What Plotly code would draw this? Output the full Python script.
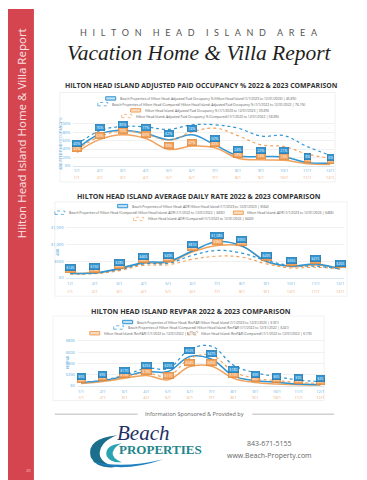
import plotly.graph_objects as go

W, H = 367, 480

# ---------------- data ----------------
months = ['1/1', '2/1', '3/1', '4/1', '5/1', '6/1', '7/1', '8/1', '9/1', '10/1', '11/1', '12/1']

occ_bp_2023 = [40, 76, 85, 77, 62, 74, 50, 24, 22, 21, 8, 6]
occ_bp_2022 = [50, 84, 94, 93, 87, 98, 98, 90, 71, 72, 46, 25]
occ_hhi_2023 = [32, 63, 74, 65, 39, 47, 43, 18, 14, 13, 5, 3]
occ_hhi_2022 = [38, 70, 83, 75, 61, 81, 90, 72, 50, 46, 28, 18]

adr_bp_2023 = [145, 150, 285, 465, 495, 810, 1085, 955, 495, 355, 415, 265]
adr_bp_2022 = [130, 140, 250, 420, 440, 680, 820, 740, 520, 370, 350, 275]
adr_hhi_2023 = [140, 148, 265, 440, 465, 780, 965, 950, 480, 340, 390, 290]
adr_hhi_2022 = [120, 130, 220, 375, 395, 560, 650, 620, 420, 300, 320, 270]

rev_bp_2023 = [55, 95, 170, 255, 255, 525, 475, 180, 95, 65, 35, 25]
rev_bp_2022 = [60, 105, 190, 315, 310, 650, 705, 370, 235, 165, 105, 75]
rev_hhi_2023 = [45, 78, 135, 185, 110, 345, 350, 135, 60, 35, 20, 15]
rev_hhi_2022 = [50, 90, 160, 230, 170, 490, 545, 255, 135, 95, 60, 45]

occ_names = [
    'Beach Properties of Hilton Head: Adjusted Paid Occupancy % (Hilton Head Island (1/1/2023 to 12/31/2023) | 45.8%)',
    'Beach Properties of Hilton Head (Compared) Hilton Head Island: Adjusted Paid Occupancy % (1/1/2022 to 12/31/2022 | 76.1%)',
    'Hilton Head Island: Adjusted Paid Occupancy % (1/1/2023 to 12/31/2023 | 39.8%)',
    'Hilton Head Island: Adjusted Paid Occupancy % (Compared) (1/1/2022 to 12/31/2022 | 58.8%)',
]
adr_names = [
    'Beach Properties of Hilton Head: ADR Hilton Head Island (1/1/2023 to 12/31/2023 | $564)',
    'Beach Properties of Hilton Head (Compared) Hilton Head Island: ADR (1/1/2022 to 12/31/2022 | $492)',
    'Hilton Head Island: ADR (1/1/2023 to 12/31/2023 | $486)',
    'Hilton Head Island: ADR (Compared) (1/1/2022 to 12/31/2022 | $440)',
]
rev_names = [
    'Beach Properties of Hilton Head: RevPAR Hilton Head Island (1/1/2023 to 12/31/2023 | $181)',
    'Beach Properties of Hilton Head (Compared) Hilton Head Island: RevPAR (1/1/2022 to 12/31/2022 | $241)',
    'Hilton Head Island: RevPAR (1/1/2022 to 12/31/2022 | $119)',
    'Hilton Head Island: RevPAR (Compared) (1/1/2022 to 12/31/2022 | $178)',
]

chart_titles = [
    'HILTON HEAD ISLAND ADJUSTED PAID OCCUPANCY % 2022 & 2023 COMPARISON',
    'HILTON HEAD ISLAND AVERAGE DAILY RATE 2022 & 2023 COMPARISON',
    'HILTON HEAD ISLAND REVPAR 2022 & 2023 COMPARISON',
]
y_titles = ['ADJUSTED PAID OCCUPANCY %', 'ADR', 'REVPAR']

# ---------------- style ----------------
BLUE = '#2f95d3'
BLUE_D = '#1f72aa'
ORANGE = '#f2a25c'
ORANGE_D = '#d98436'
TICK_BLUE = '#5aaadc'
TICK_OR = '#f0a66a'
FONT = 'Open Sans'


def xd(a, b):
    return [a / W, b / W]


def yd(top, bottom):
    return [1 - bottom / H, 1 - top / H]


def py(y):
    return 1 - y / H


def px(x):
    return x / W


def note(x, y, text, size, color, family=FONT, xanchor='center', angle=0):
    return dict(x=px(x), y=py(y), xref='paper', yref='paper', text=text, showarrow=False,
                xanchor=xanchor, yanchor='middle', textangle=angle,
                font=dict(size=size, color=color, family=family))


fig = go.Figure()
annotations = []
shapes = []

charts = [
    dict(series=[occ_bp_2023, occ_bp_2022, occ_hhi_2023, occ_hhi_2022], names=occ_names,
         xdom=(65.5, 326.5), ytop=113.6, ybot=157.7, yrange=[0, 105], dtick=20,
         prefix='', suffix='%', fmt=lambda v: f'{v}%', second_pos=165.5,
         title_y=76.5, title_x=194, title_size=6.9, ytitle_x=53, box=(52, 84, 328, 174),
         legend=[(0, 90.0, 98), (1, 95.7, 90), (2, 102.0, 123), (3, 107.7, 114)]),
    dict(series=[adr_bp_2023, adr_bp_2022, adr_hhi_2023, adr_hhi_2022], names=adr_names,
         xdom=(58.6, 336.7), ytop=218.3, ybot=270.7, yrange=[0, 1550], dtick=500,
         prefix='$', suffix='', fmt=lambda v: f'${v:,}', second_pos=279.5,
         title_y=189, title_x=192, title_size=7.0, ytitle_x=50, box=(47, 194, 340, 289),
         legend=[(0, 198.3, 110), (1, 205.0, 47), (2, 205.0, 226), (3, 211.3, 126)]),
    dict(series=[rev_bp_2023, rev_bp_2022, rev_hhi_2023, rev_hhi_2022], names=rev_names,
         xdom=(70.0, 316.6), ytop=331.2, ybot=379.3, yrange=[0, 850], dtick=200,
         prefix='$', suffix='', fmt=lambda v: f'${v:,}', second_pos=386.5,
         title_y=304, title_x=184, title_size=7.1, ytitle_x=59, box=(45, 309, 317, 394),
         legend=[(0, 315.0, 115), (1, 320.5, 106), (2, 326.3, 82), (3, 326.3, 180)]),
]

styles = [
    dict(color=BLUE, dash='solid', width=1.5, box=True, fill='#bfe0f3'),
    dict(color=BLUE, dash='dot', width=1.2, box=False, fill=None),
    dict(color=ORANGE, dash='solid', width=1.5, box=True, fill='#f8dcc0'),
    dict(color=ORANGE, dash='dot', width=1.2, box=False, fill=None),
]

layout_axes = {}
for i, c in enumerate(charts):
    k = i + 1
    xa = 'x' if k == 1 else f'x{k}'
    ya = 'y' if k == 1 else f'y{k}'
    k2 = k + 3
    xa2 = f'x{k2}'

    for si in [3, 1, 2, 0]:
        st = styles[si]
        use_x = xa if si in (0, 2) else xa2
        fig.add_trace(go.Scatter(
            x=months, y=c['series'][si], mode='lines', name=c['names'][si],
            xaxis=use_x, yaxis=ya, showlegend=False,
            line=dict(color=st['color'], dash=st['dash'], width=st['width'],
                      shape='spline', smoothing=1.1),
            hoverinfo='skip'))

    xr = [-0.15, 11.15]
    layout_axes['xaxis' if k == 1 else f'xaxis{k}'] = dict(
        domain=xd(*c['xdom']), anchor=ya, type='category', categoryarray=months,
        range=xr, showgrid=False, zeroline=False, showline=True, linecolor='#dbe7ef',
        linewidth=0.8, ticks='', tickfont=dict(size=4, color=TICK_BLUE, family=FONT),
        tickmode='array', tickvals=months, ticklabelstandoff=1)
    layout_axes[f'xaxis{k2}'] = dict(
        overlaying=xa, anchor='free', position=py(c['second_pos']), type='category',
        categoryarray=months, range=xr, showgrid=False, zeroline=False, showline=False,
        ticks='', tickfont=dict(size=4, color=TICK_OR, family=FONT),
        tickmode='array', tickvals=months, ticklabelstandoff=1)
    layout_axes['yaxis' if k == 1 else f'yaxis{k}'] = dict(
        domain=yd(c['ytop'], c['ybot']), anchor=xa, range=c['yrange'], dtick=c['dtick'],
        tick0=0, tickprefix=c['prefix'], ticksuffix=c['suffix'], tickformat=',d',
        showgrid=True, gridcolor='#f0f0f0', gridwidth=0.6, zeroline=False, showline=False,
        ticks='', tickfont=dict(size=4, color=TICK_BLUE, family=FONT), ticklabelstandoff=2)

    annotations.append(note(c['ytitle_x'], (c['ytop'] + c['ybot']) / 2, y_titles[i],
                            3.6, TICK_BLUE, angle=-90))
    annotations.append(note(c['title_x'], c['title_y'], '<b>' + chart_titles[i] + '</b>',
                            c['title_size'], '#333333'))
    bx = c['box']
    shapes.append(dict(type='rect', xref='paper', yref='paper', x0=px(bx[0]), x1=px(bx[2]),
                       y0=py(bx[3]), y1=py(bx[1]), line=dict(color='#ededed', width=0.8),
                       layer='below'))

    for si, bg, bd, ysh in [(2, ORANGE, ORANGE_D, 4), (0, BLUE, BLUE_D, 6)]:
        for m, v in zip(months, c['series'][si]):
            annotations.append(dict(x=m, y=v, xref=xa, yref=ya, text=c['fmt'](v),
                                    showarrow=False, yshift=ysh, xanchor='center', yanchor='middle',
                                    font=dict(size=3.6, color='white', family=FONT),
                                    bgcolor=bg, bordercolor=bd, borderwidth=0.6, borderpad=0.6))

    for si, ry, sx in c['legend']:
        st = styles[si]
        if st['box']:
            shapes.append(dict(type='rect', xref='paper', yref='paper', x0=px(sx), x1=px(sx + 10),
                               y0=py(ry + 1.7), y1=py(ry - 1.7), fillcolor=st['fill'],
                               line=dict(color=st['color'], width=1)))
        else:
            shapes.append(dict(type='rect', xref='paper', yref='paper', x0=px(sx), x1=px(sx + 10),
                               y0=py(ry + 1.7), y1=py(ry - 1.7),
                               line=dict(color=st['color'], width=0.7, dash='dot')))
        annotations.append(note(sx + 12, ry, c['names'][si], 3.3, '#555555', xanchor='left'))

# ---------------- page decoration ----------------
shapes.append(dict(type='rect', xref='paper', yref='paper', x0=0, x1=px(26), y0=0, y1=1,
                   fillcolor='#d5454f', line=dict(width=0), layer='below'))
annotations.append(note(13, 125, 'Hilton Head Island Home & Villa Report', 11.5, '#f8e1e3', angle=-90))
annotations.append(note(20.5, 464, '20', 4, '#f3c9cc'))

header = '\u2003\u2002'.join('\u2002\u2009'.join(list(w)) for w in 'HILTON HEAD ISLAND AREA'.split())
annotations.append(note(192, 24, header, 9, '#555555', family='Lato'))
annotations.append(note(192, 44, '<i>Vacation Home & Villa Report</i>', 21.5, '#1e1e1e',
                        family='Liberation Serif'))

annotations.append(note(187, 407.7, 'Information Sponsored & Provided by', 5.6, '#666666'))
for a, b in [(47, 130), (245, 327)]:
    shapes.append(dict(type='line', xref='paper', yref='paper', x0=px(a), x1=px(b),
                       y0=py(407.7), y1=py(407.7), line=dict(color='#9a9a9a', width=0.7)))

annotations.append(note(135, 427, '<i>Beach</i>', 21, '#1f2f63', family='Liberation Serif'))
annotations.append(note(153, 443.5, '<b>PROPERTIES</b>', 13, '#23858c', family='Liberation Serif'))
annotations.append(note(262, 437.7, '843-671-5155', 7, '#666666'))
annotations.append(note(262, 449.5, 'www.Beach-Property.com', 7, '#666666'))


def pth(cmds):
    out = []
    for c in cmds:
        if isinstance(c, str):
            out.append(c)
        else:
            out.append(f'{px(c[0]):.5f},{py(c[1]):.5f}')
    return ' '.join(out)


shapes.append(dict(type='path', xref='paper', yref='paper', fillcolor='#1c6f8c',
                   line=dict(width=0),
                   path=pth(['M', (110, 429), 'Q', (78, 432), (83, 451), 'Q', (89, 463), (108, 461),
                             'Q', (91, 456), (92, 446), 'Q', (94, 434), (110, 429), 'Z'])))
shapes.append(dict(type='path', xref='paper', yref='paper', fillcolor='#2aa3b3',
                   line=dict(width=0),
                   path=pth(['M', (114, 437), 'Q', (96, 439), (99, 450), 'Q', (103, 457), (114, 456),
                             'Q', (104, 452), (105, 446), 'Q', (107, 440), (114, 437), 'Z'])))
shapes.append(dict(type='path', xref='paper', yref='paper', fillcolor='#1f7fc0',
                   line=dict(width=0),
                   path=pth(['M', (84, 455), 'Q', (112, 468), (156, 453), 'Q', (114, 463), (84, 455), 'Z'])))

fig.update_layout(
    width=W, height=H, margin=dict(l=0, r=0, t=0, b=0),
    paper_bgcolor='white', plot_bgcolor='white',
    showlegend=False, annotations=annotations, shapes=shapes,
    font=dict(family=FONT),
    **layout_axes)

fig.write_html('out.html')
